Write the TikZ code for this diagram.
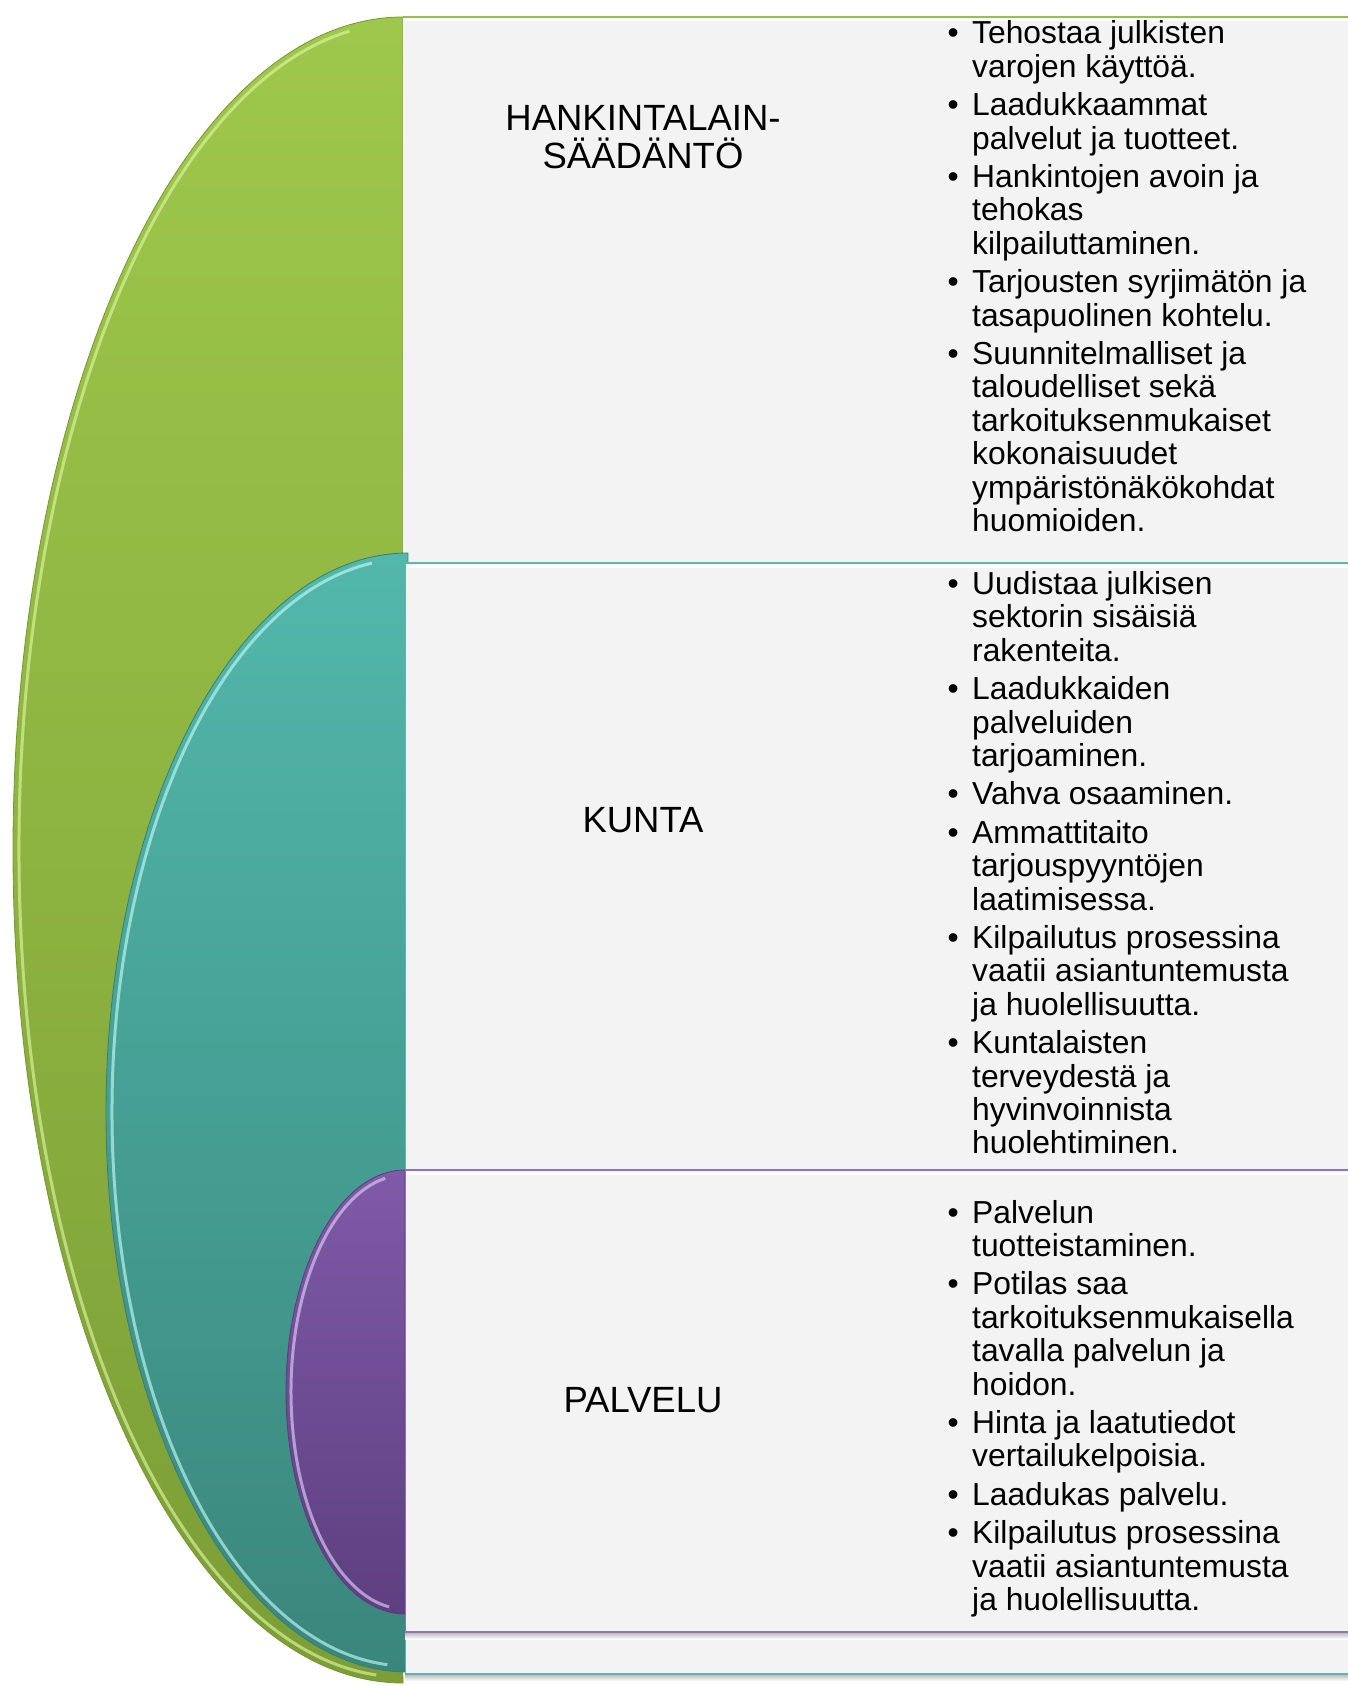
\documentclass[tikz,border=0pt]{standalone}
\usepackage{fontspec}
\setmainfont{Liberation Sans}
\definecolor{grTop}{RGB}{158,200,75}
\definecolor{grBot}{RGB}{124,158,54}
\definecolor{grHi}{RGB}{222,244,160}
\definecolor{grEdge}{RGB}{120,150,50}
\definecolor{grLine}{RGB}{150,192,85}
\definecolor{tlTop}{RGB}{82,184,171}
\definecolor{tlBot}{RGB}{58,134,124}
\definecolor{tlHi}{RGB}{190,250,245}
\definecolor{tlEdge}{RGB}{55,125,118}
\definecolor{tlLine}{RGB}{95,182,172}
\definecolor{puTop}{RGB}{127,90,168}
\definecolor{puBot}{RGB}{94,63,128}
\definecolor{puHi}{RGB}{222,205,245}
\definecolor{puEdge}{RGB}{90,60,125}
\definecolor{puLine}{RGB}{145,115,185}
\definecolor{pnlFill}{RGB}{243,243,243}
\newcommand{\B}{\makebox[24.5pt][l]{•}}
\tikzset{
  pnl/.style={fill=pnlFill},
  hilite/.style={line width=3pt, opacity=.65},
  listtxt/.style={anchor=base west, inner sep=0pt, font=\fontsize{31.8}{33.4}\selectfont},
  headtxt/.style={align=center, inner sep=0pt, font=\fontsize{36.5}{37.6}\selectfont},
  shadowline/.style={top color=black!25, bottom color=white}
}
\begin{document}
\begin{tikzpicture}[x=1pt,y=-1pt]
\useasboundingbox (0,0) rectangle (1348,1686);
\fill[white] (0,0) rectangle (1348,1686);

% green level
\path[top color=grTop, bottom color=grBot, draw=grEdge, line width=0.8pt]
  (403,17) arc[start angle=90, end angle=270, x radius=390pt, y radius=833pt] -- cycle;
\draw[grHi, hilite] ([shift={(403,850)}] 98:384pt and 827pt)
  arc[start angle=98, end angle=266, x radius=384pt, y radius=827pt];
\fill[pnl] (403,17) rectangle (1360,1676);
\draw[grLine, line width=2pt] (403,17) -- (1360,17);
\fill[white] (404,18.5) rectangle (1360,21);

% teal level
\path[top color=tlTop, bottom color=tlBot, draw=tlEdge, line width=0.8pt]
  (408,553) arc[start angle=90, end angle=270, x radius=302pt, y radius=559.5pt] -- cycle;
\draw[tlHi, hilite] ([shift={(408,1112.5)}] 97:296pt and 553.5pt)
  arc[start angle=97, end angle=266, x radius=296pt, y radius=553.5pt];
\fill[pnl] (405,563) rectangle (1360,1674);
\draw[tlLine, line width=2pt] (405,563) -- (1360,563);
\fill[white] (406,564.5) rectangle (1360,568);
\fill[shadowline] (405,1675) rectangle (1360,1681);
\draw[tlLine, line width=1.6pt] (405,1674) -- (1360,1674);
\draw[tlLine, line width=1pt] (405.5,563) -- (405.5,1674);

% purple level
\path[top color=puTop, bottom color=puBot, draw=puEdge, line width=0.8pt]
  (405,1170) arc[start angle=90, end angle=270, x radius=119pt, y radius=222pt] -- cycle;
\draw[puHi, hilite] ([shift={(405,1392)}] 100:114pt and 217pt)
  arc[start angle=100, end angle=262, x radius=114pt, y radius=217pt];
\fill[pnl] (405,1170) rectangle (1360,1632);
\draw[puLine, line width=2pt] (405,1170) -- (1360,1170);
\fill[white] (406,1171.5) rectangle (1360,1175);
\fill[shadowline] (405,1633) rectangle (1360,1639);
\draw[puLine, line width=1.6pt] (405,1632) -- (1360,1632);
\draw[puLine, line width=1pt] (405.5,1170) -- (405.5,1632);

% headings
\node[headtxt] (h1) at (643,137) {HANKINTALAIN-\\SÄÄDÄNTÖ};
\node[headtxt] (h2) at (643,820) {KUNTA};
\node[headtxt] (h3) at (643,1400) {PALVELU};

% lists
\node[listtxt] (l1) at (947.5,44) {\begin{tabular}[t]{@{}l@{}l@{}}
\B & Tehostaa julkisten\\
& varojen käyttöä.\\[5pt]
\B & Laadukkaammat\\
& palvelut ja tuotteet.\\[5pt]
\B & Hankintojen avoin ja\\
& tehokas\\
& kilpailuttaminen.\\[5pt]
\B & Tarjousten syrjimätön ja\\
& tasapuolinen kohtelu.\\[5pt]
\B & Suunnitelmalliset ja\\
& taloudelliset sekä\\
& tarkoituksenmukaiset\\
& kokonaisuudet\\
& ympäristönäkökohdat\\
& huomioiden.
\end{tabular}};

\node[listtxt] (l2) at (947.5,594.5) {\begin{tabular}[t]{@{}l@{}l@{}}
\B & Uudistaa julkisen\\
& sektorin sisäisiä\\
& rakenteita.\\[5pt]
\B & Laadukkaiden\\
& palveluiden\\
& tarjoaminen.\\[5pt]
\B & Vahva osaaminen.\\[5pt]
\B & Ammattitaito\\
& tarjouspyyntöjen\\
& laatimisessa.\\[5pt]
\B & Kilpailutus prosessina\\
& vaatii asiantuntemusta\\
& ja huolellisuutta.\\[5pt]
\B & Kuntalaisten\\
& terveydestä ja\\
& hyvinvoinnista\\
& huolehtiminen.
\end{tabular}};

\node[listtxt] (l3) at (947.5,1223) {\begin{tabular}[t]{@{}l@{}l@{}}
\B & Palvelun\\
& tuotteistaminen.\\[5pt]
\B & Potilas saa\\
& tarkoituksenmukaisella\\
& tavalla palvelun ja\\
& hoidon.\\[5pt]
\B & Hinta ja laatutiedot\\
& vertailukelpoisia.\\[5pt]
\B & Laadukas palvelu.\\[5pt]
\B & Kilpailutus prosessina\\
& vaatii asiantuntemusta\\
& ja huolellisuutta.
\end{tabular}};
\end{tikzpicture}
\end{document}
